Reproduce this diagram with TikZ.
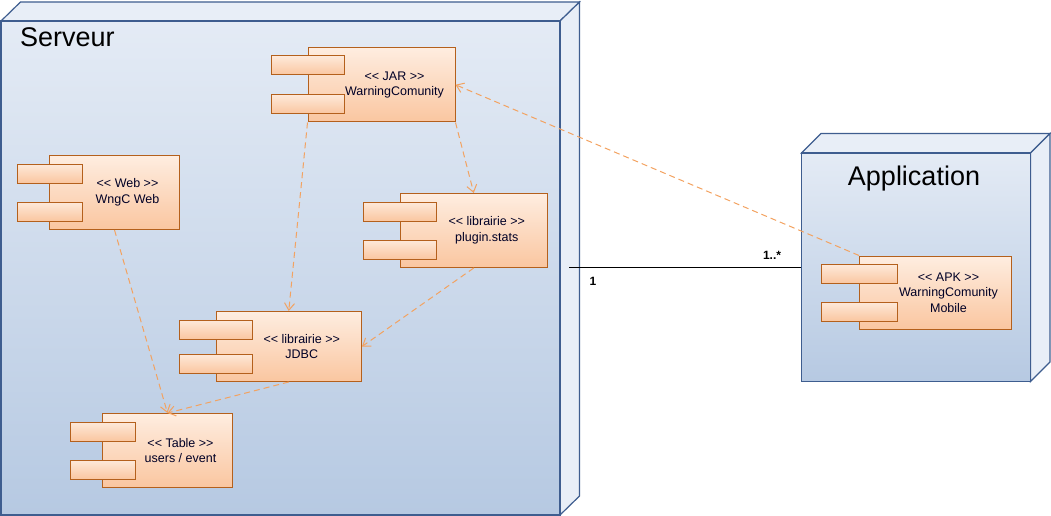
\documentclass[tikz,border=0pt]{standalone}
\usepackage{fontspec}
\setmainfont{Liberation Sans}
\usetikzlibrary{arrows.meta,fit}
\definecolor{nodeborder}{HTML}{3E5D8F}
\definecolor{nodetop}{HTML}{E4EBF5}
\definecolor{nodebot}{HTML}{B6C9E2}
\definecolor{face}{HTML}{E8EEF7}
\definecolor{compborder}{HTML}{B4601C}
\definecolor{comptop}{HTML}{FEEDE0}
\definecolor{compbot}{HTML}{FAC6A0}
\definecolor{dep}{HTML}{F3A260}
\tikzset{
  nodefront/.style={draw=nodeborder, line width=1.2pt, top color=nodetop, bottom color=nodebot, inner sep=0pt},
  nodeside/.style={draw=nodeborder, line width=1.2pt, fill=face, line join=miter},
  comp/.style={draw=compborder, line width=1pt, top color=comptop, bottom color=compbot, inner sep=0pt},
  tabbox/.style={draw=compborder, line width=1pt, top color=comptop!90!compbot, bottom color=compbot, inner sep=0pt},
  ctext/.style={align=center, font=\fontsize{12.5}{15.5}\selectfont, text=black!85!blue, inner sep=0pt},
  deplink/.style={draw=dep, line width=1pt, dash pattern=on 6pt off 4pt, -{Straight Barb[length=7pt,width=10pt]}},
  assoc/.style={draw=black, line width=1pt},
  mult/.style={font=\bfseries\fontsize{12}{14}\selectfont, inner sep=0pt},
  nodetitle/.style={font=\fontsize{27}{30}\selectfont, inner sep=0pt}
}
\newcommand{\st}[1]{<\kern0pt<\ #1 >\kern0pt>}
\newcommand{\umlcomp}[6]{%
  \pgfmathsetmacro{\qw}{(#4-#2)/4}%
  \node[comp, fit={(#2,#3) (#4,#5)}] (#1) {};
  \node[tabbox, fit={(#2-\qw,#3+8.5) (#2+\qw,#3+27.5)}] (#1-t1) {};
  \node[tabbox, fit={(#2-\qw,#5-27.5) (#2+\qw,#5-8.5)}] (#1-t2) {};
  \node[ctext] (#1-l) at ({(#2+#4)/2+13},{(#3+#5)/2}) {#6};
}
\begin{document}
\begin{tikzpicture}[x=1pt,y=-1pt]
\useasboundingbox (0,0) rectangle (1051,516);
% Serveur node
\path[nodeside] (1,21) -- (20.5,2) -- (579.5,2) -- (560,21) -- cycle;
\path[nodeside] (560,21) -- (579.5,2) -- (579.5,496) -- (560,515) -- cycle;
\node[nodefront, fit={(1,21) (560,515)}] (serveur) {};
\node[nodetitle, anchor=west] (serveurlbl) at (20,37) {Serveur};
% Application node
\path[nodeside] (801.5,153) -- (821,133.5) -- (1050,133.5) -- (1030.5,153) -- cycle;
\path[nodeside] (1030.5,153) -- (1050,133.5) -- (1050,362) -- (1030.5,381.5) -- cycle;
\node[nodefront, fit={(801.5,153) (1030.5,381.5)}] (application) {};
\node[nodetitle] (applbl) at (914,179) {Application};
% components
\umlcomp{jar}{308}{47.5}{455}{122}{\st{JAR}\\WarningComunity}
\umlcomp{web}{49.5}{155.5}{179.5}{229.5}{\st{Web}\\WngC Web}
\umlcomp{plugin}{400}{193.5}{547.5}{267.5}{\st{librairie}\\plugin.stats}
\umlcomp{jdbc}{216}{311.5}{361.5}{381.5}{\st{librairie}\\JDBC}
\umlcomp{table}{102.5}{413.5}{232.5}{487.5}{\st{Table}\\users / event}
\umlcomp{apk}{859.5}{256}{1011.5}{329.5}{\st{APK}\\WarningComunity\\Mobile}
% association
\coordinate (assocstart) at (569,267);
\draw[assoc] (assocstart) -- (assocstart -| application.west) coordinate (assocend);
\node[mult] (m1) at (593,281) {1};
\node[mult] (m2) at (772,255) {1..*};
% dependencies
\draw[deplink] (apk.north west) -- (jar.east);
\draw[deplink] (jar.south east) -- (plugin.north);
\draw[deplink] (jar.south west) -- (jdbc.north);
\draw[deplink] (plugin.south) -- (jdbc.east);
\draw[deplink] (web.south) -- (table.north);
\draw[deplink] (jdbc.south) -- (table.north);
\end{tikzpicture}
\end{document}
